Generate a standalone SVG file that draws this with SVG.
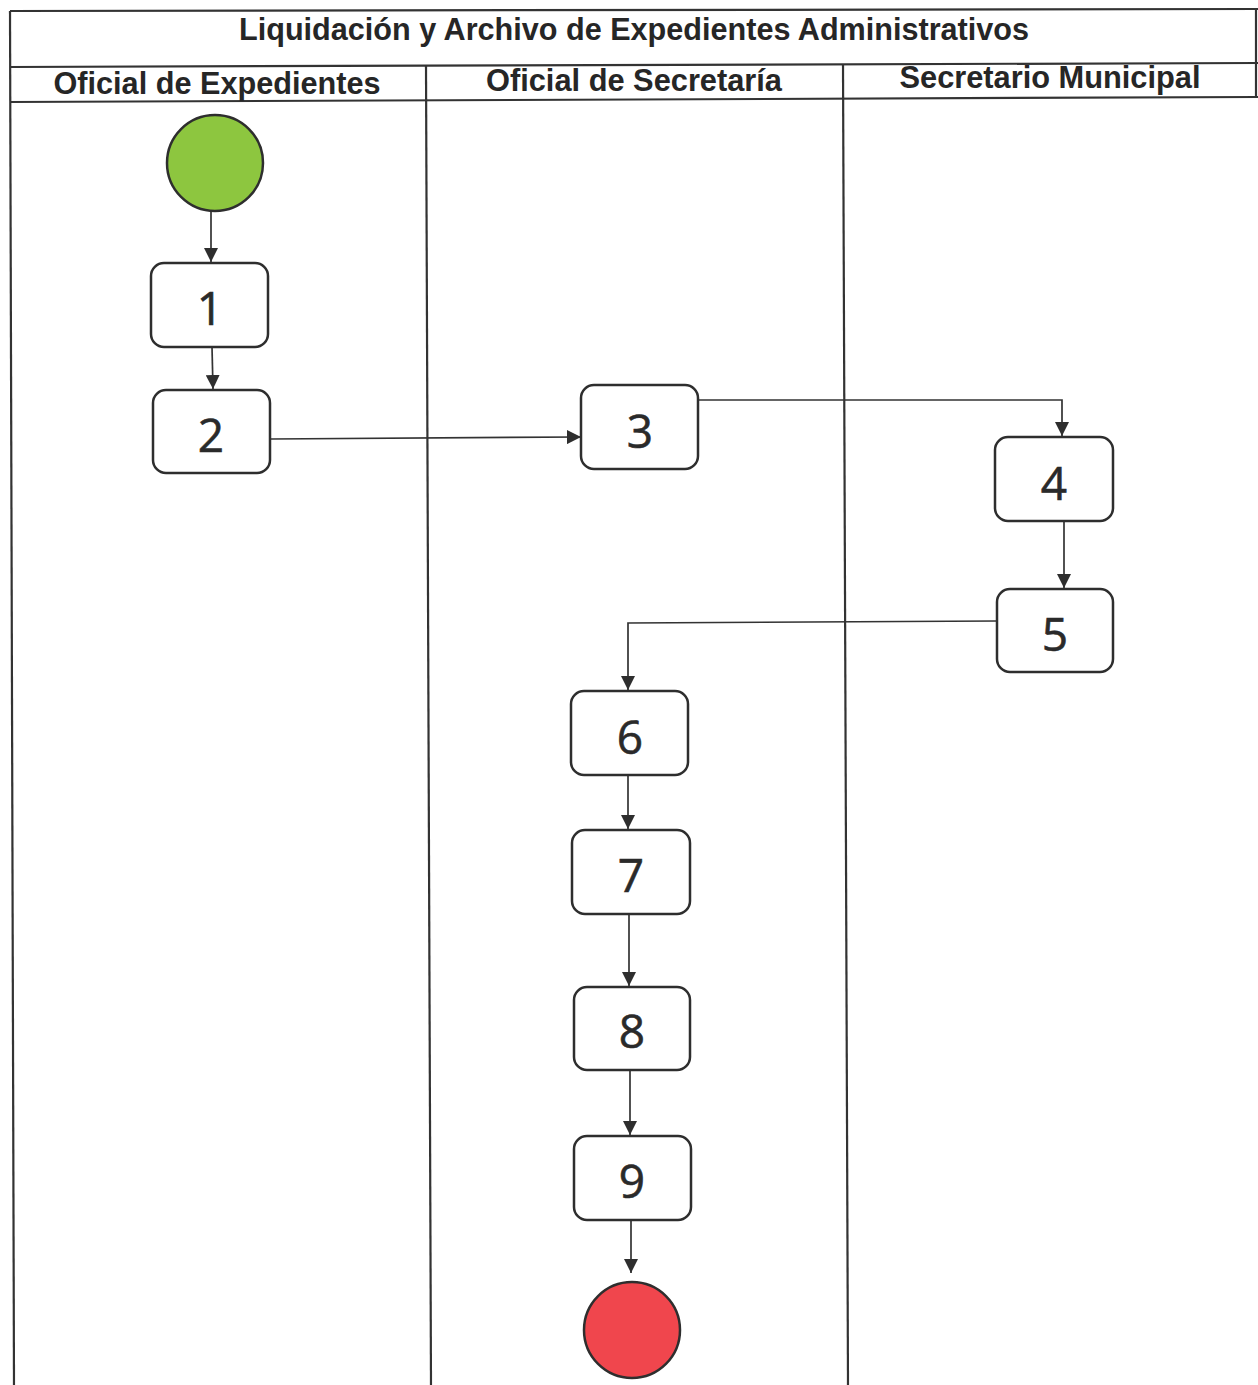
<svg xmlns="http://www.w3.org/2000/svg" width="1258" height="1385" viewBox="0 0 1258 1385">
  <defs>
    <style>
      .frame { stroke: #333333; stroke-width: 2.2; fill: none; }
      .title { font-family: "Liberation Sans", Arial, sans-serif; font-weight: bold; font-size: 32px; fill: #262626; text-anchor: middle; }
      .lane { font-family: "Liberation Sans", Arial, sans-serif; font-weight: bold; font-size: 31px; fill: #262626; text-anchor: middle; }
      .box { fill: #ffffff; stroke: #2e2e2e; stroke-width: 2.5; }
      .num { font-family: "Open Sans", "Liberation Sans", sans-serif; font-size: 46px; fill: #2a2a2a; stroke: #2a2a2a; stroke-width: 0.6; text-anchor: middle; dominant-baseline: central; }
      .conn { stroke: #333333; stroke-width: 1.7; fill: none; }
    </style>
    <marker id="arr" viewBox="0 0 12 12" refX="12" refY="6" markerWidth="14" markerHeight="14" markerUnits="userSpaceOnUse" orient="auto">
      <path d="M0,0 L12,6 L0,12 Z" fill="#2e2e2e"/>
    </marker>
  </defs>
  <rect width="1258" height="1385" fill="#ffffff"/>

  <g id="frame">
    <line class="frame" x1="10" y1="11" x2="1258" y2="9"/>
    <line class="frame" x1="10" y1="67" x2="1258" y2="63"/>
    <line class="frame" x1="10" y1="102" x2="1258" y2="97"/>
    <line class="frame" x1="10" y1="11" x2="14" y2="1385"/>
    <line class="frame" x1="1256" y1="9" x2="1256" y2="97"/>
    <line class="frame" x1="426" y1="66" x2="431" y2="1385"/>
    <line class="frame" x1="843" y1="64" x2="848" y2="1385"/>
  </g>

  <g id="title">
    <text class="title" x="634" y="40" textLength="790" lengthAdjust="spacingAndGlyphs">Liquidación y Archivo de Expedientes Administrativos</text>
  </g>
  <g id="lane-headers">
    <text class="lane" x="217" y="94" textLength="327" lengthAdjust="spacingAndGlyphs">Oficial de Expedientes</text>
    <text class="lane" x="634" y="91" textLength="296" lengthAdjust="spacingAndGlyphs">Oficial de Secretaría</text>
    <text class="lane" x="1050" y="88" textLength="301" lengthAdjust="spacingAndGlyphs">Secretario Municipal</text>
  </g>

  <g id="connectors">
    <line class="conn" x1="211" y1="212" x2="211" y2="262" marker-end="url(#arr)"/>
    <line class="conn" x1="212" y1="347" x2="213" y2="389" marker-end="url(#arr)"/>
    <line class="conn" x1="271" y1="439" x2="581" y2="437" marker-end="url(#arr)"/>
    <polyline class="conn" points="698,400 1062,400 1062,436" marker-end="url(#arr)"/>
    <line class="conn" x1="1064" y1="521" x2="1064" y2="588" marker-end="url(#arr)"/>
    <polyline class="conn" points="997,621 628,623 628,690" marker-end="url(#arr)"/>
    <line class="conn" x1="628" y1="776" x2="628" y2="829" marker-end="url(#arr)"/>
    <line class="conn" x1="629" y1="915" x2="629" y2="986" marker-end="url(#arr)"/>
    <line class="conn" x1="630" y1="1070" x2="630" y2="1135" marker-end="url(#arr)"/>
    <line class="conn" x1="631" y1="1221" x2="631" y2="1273" marker-end="url(#arr)"/>
  </g>

  <g id="start">
    <circle cx="215" cy="163" r="48" fill="#8dc63f" stroke="#2e2e2e" stroke-width="2.5"/>
  </g>
  <g id="n1">
    <rect class="box" x="151" y="263" width="117" height="84" rx="13"/>
    <text class="num" x="210" y="307">1</text>
  </g>
  <g id="n2">
    <rect class="box" x="153" y="390" width="117" height="83" rx="13"/>
    <text class="num" x="211" y="434">2</text>
  </g>
  <g id="n3">
    <rect class="box" x="581" y="385" width="117" height="84" rx="13"/>
    <text class="num" x="640" y="430">3</text>
  </g>
  <g id="n4">
    <rect class="box" x="995" y="437" width="118" height="84" rx="13"/>
    <text class="num" x="1054" y="482">4</text>
  </g>
  <g id="n5">
    <rect class="box" x="997" y="589" width="116" height="83" rx="13"/>
    <text class="num" x="1055" y="633">5</text>
  </g>
  <g id="n6">
    <rect class="box" x="571" y="691" width="117" height="84" rx="13"/>
    <text class="num" x="630" y="736">6</text>
  </g>
  <g id="n7">
    <rect class="box" x="572" y="830" width="118" height="84" rx="13"/>
    <text class="num" x="631" y="874">7</text>
  </g>
  <g id="n8">
    <rect class="box" x="574" y="987" width="116" height="83" rx="13"/>
    <text class="num" x="632" y="1030">8</text>
  </g>
  <g id="n9">
    <rect class="box" x="574" y="1136" width="117" height="84" rx="13"/>
    <text class="num" x="632" y="1180">9</text>
  </g>
  <g id="end">
    <ellipse cx="632" cy="1330" rx="48" ry="48" fill="#f0464d" stroke="#2e2e2e" stroke-width="2.5"/>
  </g>
</svg>
